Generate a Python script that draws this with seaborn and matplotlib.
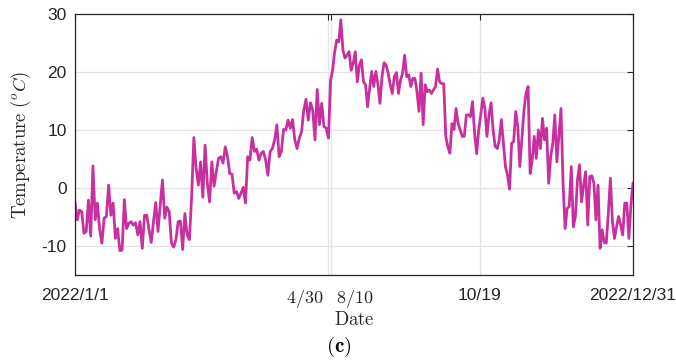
import numpy as np
import pandas as pd
import matplotlib
matplotlib.use("Agg")
import matplotlib.pyplot as plt
import matplotlib.transforms as mtransforms
import seaborn as sns

# Daily temperature (°C), first stretch: 1 Jan - 30 Apr
temp_jan_apr = [
    -2.4, -5.5, -3.8, -4.1, -7.8, -7.5, -2.1, -8.3, 3.8, -5.5,
    -2.6, -7.2, -9.5, -5.2, -4.9, 0.5, -4.7, -2.6, -8.7, -7.0,
    -10.8, -10.7, -2.0, -7.0, -6.1, -5.8, -6.4, -6.0, -8.1, -5.8,
    -10.4, -4.7, -4.7, -7.2, -9.4, -5.8, -2.5, -7.5, -2.9, 1.4,
    -5.2, -3.3, -4.1, -9.5, -10.2, -8.9, -5.8, -5.7, -10.6, -4.4,
    -8.1, -8.9, -1.5, 8.7,
    3.4, 0.5, 4.5, -1.6, 7.4, 0.8, -2.4, 4.5, 0.3, 2.8,
    5.1, 5.4, 4.3, 7.1, 5.4, 2.5, 2.4, -0.9, -0.6, -1.8,
    -0.9, 0.1, -2.6, 5.4, 4.8, 8.7, 6.3, 6.7, 4.8, 6.0,
    6.3, 4.8,
    2.2, 6.3, 6.8, 8.3, 10.9, 5.4, 6.3, 10.1, 10.0, 11.7,
    10.3, 11.8, 8.3, 6.8, 8.6, 9.7, 13.4, 15.3, 11.7, 14.7,
    13.4, 8.3, 17.0, 10.9, 14.6, 10.6, 10.3, 8.6,
]

# Daily temperature (°C), second stretch: 10 Aug - 31 Dec
temp_aug_dec = [
    18.6, 20.3, 23.5, 25.5, 25.2, 29.0, 23.8, 22.4, 22.9, 23.5,
    20.3, 21.5, 23.5, 18.3, 21.2, 22.1, 18.3, 17.8, 14.0, 17.2,
    20.1, 17.5, 20.1, 17.9, 14.6, 19.2, 21.6, 21.2, 19.8, 17.8,
    16.3, 19.2, 19.9,
    16.3, 18.6, 19.8, 22.9, 19.2, 19.5, 17.5, 18.9, 18.9, 16.6,
    13.2, 19.8, 10.9, 17.8, 16.6, 16.9, 16.3, 16.9, 17.5, 20.5,
    18.3, 18.0, 18.0, 8.9, 7.1, 6.0, 11.1, 10.1, 13.7, 11.1,
    10.0, 8.9, 8.9, 12.6, 12.6, 12.3, 14.9, 9.4, 5.9, 10.0,
    12.6, 15.5, 13.7, 8.9, 12.6, 14.7, 10.0, 7.2, 6.8, 8.3,
    11.8, 7.7, 3.7, 2.2, -0.2, 7.7, 8.0, 13.2, 10.6, 3.7,
    8.6, 13.4,
    16.3, 17.5, 2.5, 4.8, 8.9, 5.1, 10.0, 6.8, 12.0, 8.3,
    10.3, 0.8, 5.4, 7.7, 12.6, 4.5, 9.1, 13.7, 0.8, -7.0,
    -3.5, -3.2, 3.7, -6.7, -4.9, 1.4, 4.0, -2.4, 0.5, 2.8,
    -6.4,
    2.0, 2.1, 0.8, -5.5, 0.5, -10.4, -7.2, -9.4, -9.5, -4.4,
    1.7, -5.8, -8.7, -6.7, -4.9, -6.4, -8.1, -2.6, -2.6, -8.7,
    -2.9, 0.9,
]

# Sample index of each labelled date along the record
tick_index = [0, 119, 120, 190, 262]
tick_labels = ["2022/1/1", r"$4/30$", r"$8/10$", "10/19", "2022/12/31"]
y_ticks = [-10, 0, 10, 20, 30]

sns.set_style("white")
plt.rcParams["font.family"] = ["Liberation Sans", "DejaVu Sans"]
plt.rcParams["mathtext.fontset"] = "cm"
plt.rcParams["axes.unicode_minus"] = False

# Place each stretch on the sample axis between its bounding dates
x_first = np.linspace(tick_index[0], tick_index[1], len(temp_jan_apr))
x_second = np.linspace(tick_index[2], tick_index[4], len(temp_aug_dec))
df = pd.DataFrame({
    "sample": np.concatenate([x_first, x_second]),
    "temp": temp_jan_apr + temp_aug_dec,
})

fig = plt.figure(figsize=(6.76, 3.64), dpi=100)
ax = fig.add_axes([75 / 676, 89 / 364, 558 / 676, 261 / 364])

sns.lineplot(data=df, x="sample", y="temp", color="#C9309F",
             linewidth=2.0, ax=ax, sort=False)

ax.set_xlim(tick_index[0], tick_index[-1])
ax.set_ylim(-15, 30)
ax.set_yticks(y_ticks)
ax.set_xticks(tick_index)
ax.set_xticklabels(tick_labels)

ax.grid(True, color="#e3e3e3", linewidth=0.9)
ax.set_axisbelow(True)
for s in ax.spines.values():
    s.set_color("#262626")
    s.set_linewidth(0.9)

ax.tick_params(axis="both", direction="in", length=4, width=0.8,
               colors="#262626", labelsize=12.5, top=True, right=True)
ax.tick_params(axis="x", pad=9)
ax.tick_params(axis="y", pad=6)

# The two neighbouring dates are pushed apart so they do not overlap
labels = ax.get_xticklabels()
shift_l = mtransforms.ScaledTranslation(-5 / 100, 0, fig.dpi_scale_trans)
shift_r = mtransforms.ScaledTranslation(5 / 100, 0, fig.dpi_scale_trans)
labels[1].set_ha("right")
labels[1].set_transform(labels[1].get_transform() + shift_l)
labels[1].set_fontsize(13)
labels[2].set_ha("left")
labels[2].set_transform(labels[2].get_transform() + shift_r)
labels[2].set_fontsize(13)

ax.set_xlabel(r"$\mathrm{Date}$", fontsize=13.5, labelpad=1, color="#262626")
ax.set_ylabel(r"$\mathrm{Temperature}\ (^{o}C)$", fontsize=13.5,
              labelpad=6, color="#262626")

fig.text(339 / 676, 1 - 347 / 364, r"$\mathbf{(c)}$", ha="center",
         va="center", fontsize=15, color="black")

fig.savefig("out.png", dpi=100)
